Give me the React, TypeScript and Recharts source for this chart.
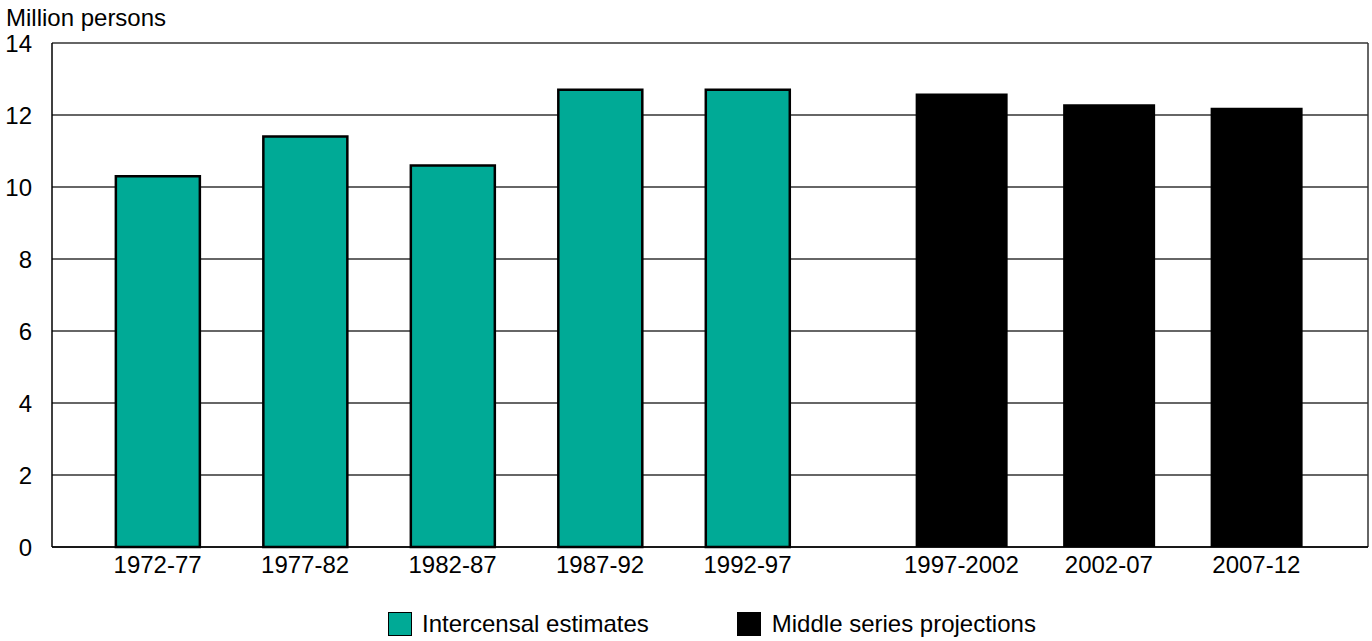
import React from 'react';
import { BarChart, Bar, XAxis, YAxis, CartesianGrid, ReferenceLine, Legend } from 'recharts';

const categories = ['1972-77', '1977-82', '1982-87', '1987-92', '1992-97', '1997-2002', '2002-07', '2007-12'];
const estimates: (number | null)[] = [10.3, 11.4, 10.6, 12.7, 12.7, null, null, null];
const projections: (number | null)[] = [null, null, null, null, null, 12.6, 12.3, 12.2];
const yTicks = [0, 2, 4, 6, 8, 10, 12, 14];
const seriesNames = ['Intercensal estimates', 'Middle series projections'];

const TEAL = '#00AA96';
const FONT = '"Liberation Sans", Arial, Helvetica, sans-serif';
const FS = 24;
const GAP_AFTER = 5;
const GAP_EXTRA = 0.45;
const X_DOMAIN: [number, number] = [-0.716, 8.207];

const data = categories.map((label, i) => ({
  label,
  pos: i < GAP_AFTER ? i : i + GAP_EXTRA,
  estimates: estimates[i],
  projections: projections[i],
}));
const xTicks = data.map((d) => d.pos);
const labelByPos = new Map<number, string>(data.map((d) => [d.pos, d.label]));

const renderLegend = () => (
  <div
    style={{
      height: 30,
      display: 'flex',
      alignItems: 'center',
      paddingLeft: 388,
      fontFamily: FONT,
      fontSize: FS,
      color: '#000',
      whiteSpace: 'nowrap',
    }}
  >
    <div style={{ width: 24, height: 24, boxSizing: 'border-box', background: TEAL, border: '1.5px solid #000' }} />
    <span style={{ marginLeft: 10, lineHeight: '24px' }}>{seriesNames[0]}</span>
    <div style={{ width: 24, height: 24, marginLeft: 88, background: '#000' }} />
    <span style={{ marginLeft: 11, lineHeight: '24px' }}>{seriesNames[1]}</span>
  </div>
);

export default function App() {
  return (
    <div style={{ position: 'absolute', left: 0, top: 0, width: 1372, height: 641, background: '#fff' }}>
      <div
        style={{
          position: 'absolute',
          left: 6,
          top: 6,
          fontFamily: FONT,
          fontSize: FS,
          lineHeight: `${FS}px`,
          color: '#000',
          whiteSpace: 'nowrap',
        }}
      >
        Million persons
      </div>
      <BarChart width={1372} height={641} data={data} margin={{ top: 43, right: 4, bottom: 2, left: 0 }}>
        <CartesianGrid xAxisId="a" horizontal vertical={false} stroke="#333" strokeWidth={1.5} />
        <XAxis
          xAxisId="a"
          type="number"
          dataKey="pos"
          domain={X_DOMAIN}
          allowDataOverflow
          ticks={xTicks}
          interval={0}
          tickFormatter={(v: number) => labelByPos.get(v) ?? ''}
          height={62}
          tickSize={0}
          tickMargin={9}
          axisLine={{ stroke: '#000', strokeWidth: 1.5 }}
          tick={{ fill: '#000', fontSize: FS, fontFamily: FONT }}
        />
        <XAxis xAxisId="b" type="number" dataKey="pos" domain={X_DOMAIN} allowDataOverflow hide />
        <YAxis
          type="number"
          domain={[0, 14]}
          ticks={yTicks}
          interval={0}
          width={52}
          tickSize={0}
          tickMargin={20}
          axisLine={{ stroke: '#000', strokeWidth: 1.5 }}
          tick={{ fill: '#000', fontSize: FS, fontFamily: FONT }}
        />
        <ReferenceLine xAxisId="a" x={X_DOMAIN[1]} stroke="#333" strokeWidth={1.5} ifOverflow="visible" />
        <Bar
          xAxisId="a"
          dataKey="estimates"
          name={seriesNames[0]}
          fill={TEAL}
          stroke="#000"
          strokeWidth={2.5}
          barSize={84}
          isAnimationActive={false}
        />
        <Bar
          xAxisId="b"
          dataKey="projections"
          name={seriesNames[1]}
          fill="#000"
          barSize={92}
          isAnimationActive={false}
        />
        <Legend verticalAlign="bottom" content={renderLegend} />
      </BarChart>
    </div>
  );
}
